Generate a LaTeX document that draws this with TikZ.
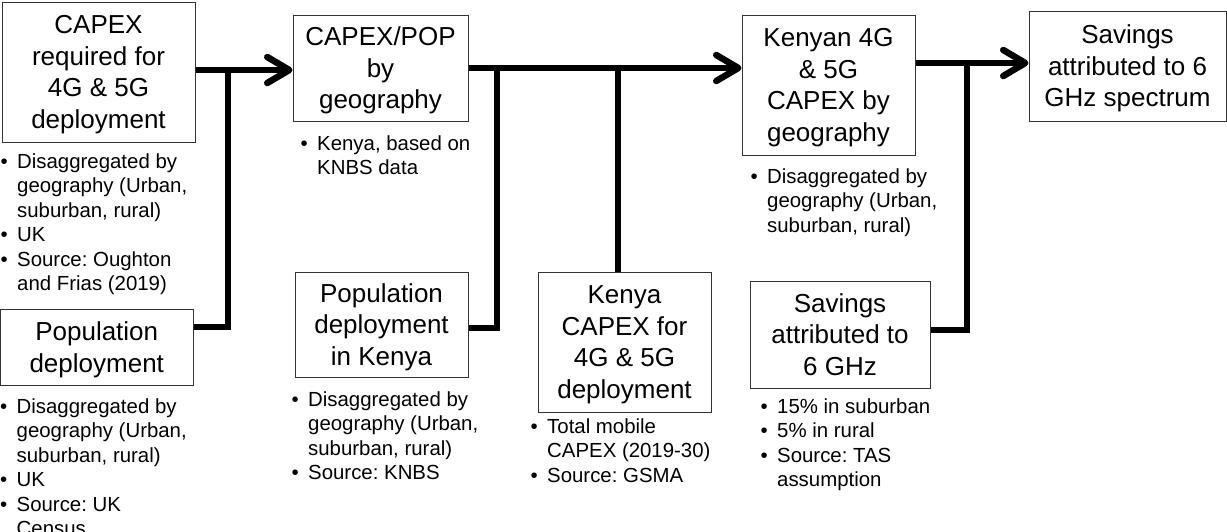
\documentclass[tikz,border=0pt]{standalone}
\usepackage{fontspec}
\setmainfont{Liberation Sans}
\usetikzlibrary{arrows.meta}
\frenchspacing
\newcommand\bigf{\fontsize{26}{31.5}\selectfont}
\newcommand\smallf{\fontsize{20.4}{24.5}\selectfont}
\newcommand\bpt{\rule{0pt}{16pt}\makebox[16.5pt][l]{\textbullet}}
\newcommand\bin{\hspace*{16.5pt}}
\tikzset{
  box/.style={draw=black!80, line width=1pt, inner sep=0pt, align=center, font=\bigf, fill=white, text depth=0pt},
  notes/.style={anchor=north west, align=left, inner sep=0pt, font=\smallf},
  conn/.style={line width=6.5pt, line join=miter, draw=black},
  arr/.style={conn, -{Straight Barb[length=22pt, width=26pt, line cap=round, line join=round]}}
}
\begin{document}
\begin{tikzpicture}[x=1pt,y=-1pt]
\fill[white] (0,0) rectangle (1227,531);
\clip (0,0) rectangle (1227,531);
% boxes
\node[box, minimum width=193pt, minimum height=140pt] (cap1) at (98.5,72) {CAPEX\\required for\\4G \& 5G\\deployment};
\node[box, minimum width=192.5pt, minimum height=76pt] (pop) at (96.75,347) {Population\\deployment};
\node[box, minimum width=175pt, minimum height=106pt] (cpop) at (380.5,68) {CAPEX/POP\\by\\geography};
\node[box, minimum width=173pt, minimum height=105pt] (popk) at (381.5,324.5) {Population\\deployment\\in Kenya};
\node[box, minimum width=173pt, minimum height=140pt] (kcap) at (624.5,342) {Kenya\\CAPEX for\\4G \& 5G\\deployment};
\node[box, minimum width=173pt, minimum height=140pt] (ken) at (828.5,85) {Kenyan 4G\\\& 5G\\CAPEX by\\geography};
\node[box, minimum width=180pt, minimum height=107pt] (sav6) at (840,334.5) {Savings\\attributed to\\6 GHz};
\node[box, minimum width=197pt, minimum height=110pt] (savs) at (1127.5,66) {Savings\\attributed to 6\\GHz spectrum};
% notes (y = first baseline - 16)
\node[notes] (n1) at (0.5,152) {\bpt Disaggregated by\\\bin geography (Urban,\\\bin suburban, rural)\\\bpt UK\\\bpt Source: Oughton\\\bin and Frias (2019)};
\node[notes] (n2) at (0,397) {\bpt Disaggregated by\\\bin geography (Urban,\\\bin suburban, rural)\\\bpt UK\\\bpt Source: UK\\\bin Census};
\node[notes] (n3) at (300.5,134) {\bpt Kenya, based on\\\bin KNBS data};
\node[notes] (n4) at (291.5,390) {\bpt Disaggregated by\\\bin geography (Urban,\\\bin suburban, rural)\\\bpt Source: KNBS};
\node[notes] (n5) at (530.5,417) {\bpt Total mobile\\\bin CAPEX (2019-30)\\\bpt Source: GSMA};
\node[notes] (n6) at (750.5,167) {\bpt Disaggregated by\\\bin geography (Urban,\\\bin suburban, rural)};
\node[notes] (n7) at (760.5,397) {\bpt 15\% in suburban\\\bpt 5\% in rural\\\bpt Source: TAS\\\bin assumption};
% junctions
\coordinate (j1) at (228,70);
\coordinate (k1) at (228,327);
\coordinate (j2) at (497,68);
\coordinate (k2) at (497,328);
\coordinate (j3) at (618,68);
\coordinate (j4) at (967,63);
\coordinate (k4) at (967,330);
% connectors
\draw[arr] (cap1.east |- j1) -- (cpop.west |- j1);
\draw[conn] (pop.east |- k1) -| (j1);
\draw[arr] (cpop.east |- j2) -- (ken.west |- j2);
\draw[conn] (popk.east |- k2) -| (j2);
\draw[conn] (kcap.north -| j3) -- (j3);
\draw[arr] (ken.east |- j4) -- (savs.west |- j4);
\draw[conn] (sav6.east |- k4) -| (j4);
\end{tikzpicture}
\end{document}
